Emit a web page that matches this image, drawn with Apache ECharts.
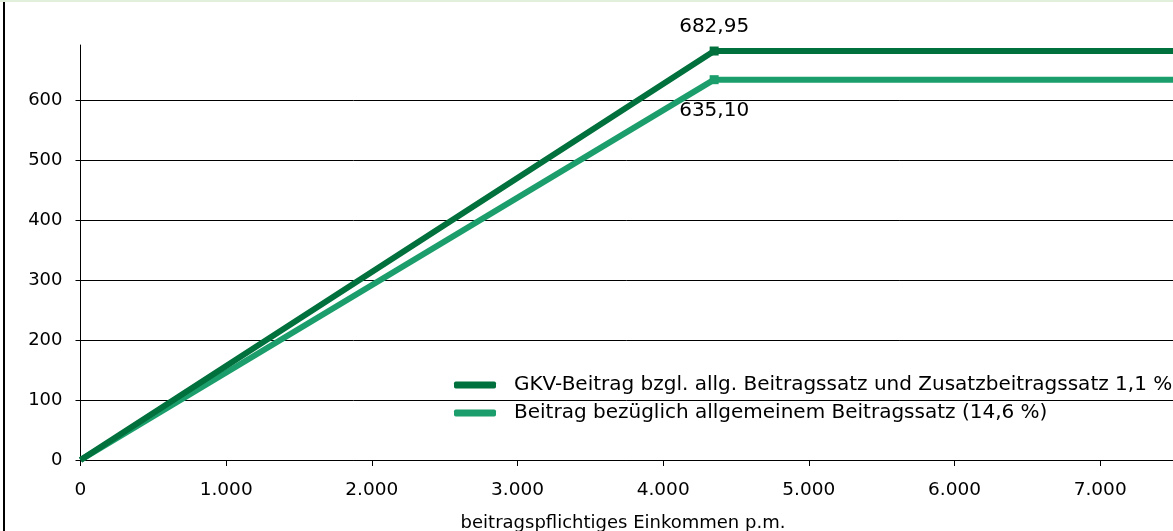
<!DOCTYPE html>
<html>
<head>
<meta charset="utf-8">
<script src="https://cdn.jsdelivr.net/npm/echarts@6/dist/echarts.min.js"></script>
<style>html,body{margin:0;padding:0;background:#fff}#c{width:1173px;height:531px}</style>
</head>
<body>
<div id="c"></div>
<script>
// Data
const seriesNames = [
  'GKV-Beitrag bzgl. allg. Beitragssatz und Zusatzbeitragssatz 1,1 %',
  'Beitrag bezüglich allgemeinem Beitragssatz (14,6 %)'
];
const incomeX = [0, 4350, 7500];
const gkvTotal = [0, 682.95, 682.95];
const gkvGeneral = [0, 635.10, 635.10];
const xTickValues = [0, 1000, 2000, 3000, 4000, 5000, 6000, 7000];
const yTickValues = [0, 100, 200, 300, 400, 500, 600];
const xAxisTitle = 'beitragspflichtiges Einkommen p.m.';

const FONT = 'DejaVu Sans';
const fmtThousands = v => v === 0 ? '0' : (v / 1000).toFixed(0) + '.000';

function buildData(ys, labelPos, labelDist) {
  return incomeX.map((x, i) => {
    const item = { value: [x, ys[i]] };
    if (i === 1) {
      item.symbol = 'rect';
      item.symbolSize = 9;
      item.label = {
        show: true, position: labelPos, distance: labelDist,
        formatter: ys[i].toFixed(2).replace('.', ','),
        color: '#000', fontFamily: FONT, fontSize: 20
      };
    } else {
      item.symbol = 'none';
    }
    return item;
  });
}

const chart = echarts.init(document.getElementById('c'));
chart.setOption({
  animation: false,
  backgroundColor: '#fff',
  grid: { left: 80.5, top: 45, bottom: 71, right: -6.25, containLabel: false },
  xAxis: {
    type: 'value', min: 0, max: 7500, interval: 1000,
    axisLine: { show: true, lineStyle: { color: '#000', width: 1 } },
    axisTick: { show: true, length: 6, lineStyle: { color: '#000' }, customValues: xTickValues },
    axisLabel: { color: '#000', fontFamily: FONT, fontSize: 18.5, margin: 21, customValues: xTickValues, formatter: fmtThousands },
    splitLine: { show: false }
  },
  yAxis: {
    type: 'value', min: 0, max: 693, interval: 100,
    axisLine: { show: true, lineStyle: { color: '#000', width: 1 } },
    axisTick: { show: true, length: 5, lineStyle: { color: '#000' }, customValues: yTickValues },
    axisLabel: { color: '#000', fontFamily: FONT, fontSize: 18, margin: 18, customValues: yTickValues },
    splitLine: { show: true, lineStyle: { color: '#000', width: 1 } }
  },
  title: {
    text: xAxisTitle, left: 618, top: 509, textAlign: 'center',
    textStyle: { color: '#000', fontFamily: FONT, fontSize: 18, fontWeight: 'normal' }
  },
  legend: {
    orient: 'vertical', left: 449, top: 369, itemWidth: 42, itemHeight: 7, itemGap: 6,
    icon: 'roundRect',
    textStyle: { color: '#000', fontFamily: FONT, fontSize: 20, padding: [0, 0, 0, 13], lineHeight: 22 },
    data: seriesNames
  },
  series: [
    {
      name: seriesNames[1], type: 'line', z: 2,
      data: buildData(gkvGeneral, 'bottom', 17),
      lineStyle: { color: '#1B9E6B', width: 6 },
      itemStyle: { color: '#1B9E6B' },
      showSymbol: true
    },
    {
      name: seriesNames[0], type: 'line', z: 3,
      data: buildData(gkvTotal, 'top', 10),
      lineStyle: { color: '#00703C', width: 6 },
      itemStyle: { color: '#00703C' },
      showSymbol: true
    }
  ],
  graphic: [
    { type: 'rect', shape: { x: 0, y: 0, width: 1173, height: 2 }, style: { fill: '#E2EFDA' }, silent: true },
    { type: 'rect', shape: { x: 3, y: 2, width: 2, height: 529 }, style: { fill: '#000' }, silent: true }
  ]
});
</script>
</body>
</html>
